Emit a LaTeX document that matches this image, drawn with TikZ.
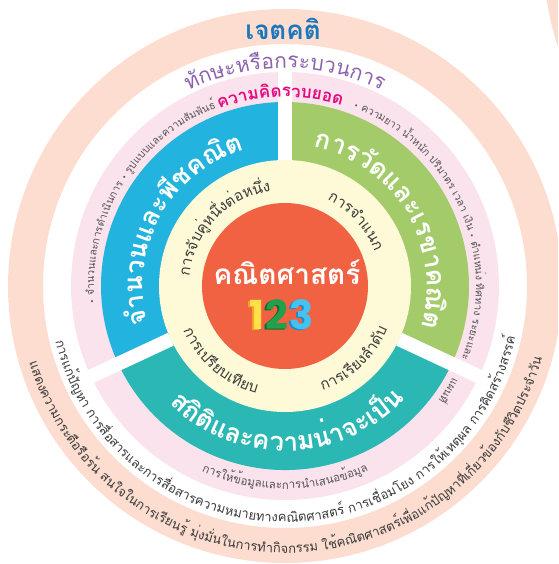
\documentclass[tikz,border=0pt]{standalone}
\usepackage{fontspec}
\usetikzlibrary{decorations.text}
\newfontfamily\loma[Script=Thai]{Loma}
\newfontfamily\bul{DejaVu Sans}
\newfontfamily\numfont{Poppins}
\definecolor{peach}{HTML}{FCDDD0}
\definecolor{pinkband}{HTML}{FAE3EC}
\definecolor{segblue}{HTML}{22B3DF}
\definecolor{seggreen}{HTML}{A4CB6A}
\definecolor{segteal}{HTML}{2BB7B3}
\definecolor{cream}{HTML}{FEF9D7}
\definecolor{core}{HTML}{F16242}
\definecolor{titleblue}{HTML}{1C76BC}
\definecolor{skillpurple}{HTML}{8C62AD}
\definecolor{conceptmag}{HTML}{E4097F}
\definecolor{txtgray}{HTML}{3A3A3A}
\definecolor{smallgray}{HTML}{555555}
\definecolor{oneface}{HTML}{FFE04A}
\definecolor{oneshade}{HTML}{F5A321}
\definecolor{twoface}{HTML}{22A04C}
\definecolor{twoshade}{HTML}{0E6B30}
\definecolor{threeface}{HTML}{45C3F0}
\definecolor{threeshade}{HTML}{1A8CD0}
% clockwise arc text (letter tops outward)
\newcommand\cwtext[5][]{%
  \path[decorate,decoration={text along path,text align=center,text={#5},#1}]
    ({#3+#4}:#2pt) arc[start angle={#3+#4},end angle={#3-#4},radius=#2pt];}
% counter-clockwise arc text (letter tops inward)
\newcommand\ccwtext[5][]{%
  \path[decorate,decoration={text along path,text align=center,text={#5},#1}]
    ({#3-#4}:#2pt) arc[start angle={#3-#4},end angle={#3+#4},radius=#2pt];}
\tikzset{
  gapline/.style={white,line width=14pt},
  digit/.style={font=\numfont\bfseries\fontsize{40}{40}\selectfont,inner sep=0pt}
}
\begin{document}
\begin{tikzpicture}[x=1pt,y=1pt]
\useasboundingbox (-285,-278) rectangle (273,286);
\clip (-285,-278) rectangle (273,286);
% neighbouring ring at top right
\fill[peach,even odd rule] (536,326) circle[radius=277pt] (536,326) circle[radius=242pt];
% rings
\fill[peach,even odd rule] (0,0) circle[radius=277pt] (0,0) circle[radius=242pt];
\fill[pinkband] (0,0) circle[radius=214pt];
\fill[segblue] (0,0) -- (90:184pt) arc[start angle=90,end angle=205,radius=184pt] -- cycle;
\fill[seggreen] (0,0) -- (-25:184pt) arc[start angle=-25,end angle=90,radius=184pt] -- cycle;
\fill[segteal] (0,0) -- (205:184pt) arc[start angle=205,end angle=335,radius=184pt] -- cycle;
\fill[cream] (0,0) circle[radius=126pt];
\draw[gapline] (90:126pt) -- (90:215pt);
\draw[gapline] (205:126pt) -- (205:215pt);
\draw[gapline] (335:126pt) -- (335:215pt);
\fill[core] (0,0) circle[radius=83pt];
% outer ring texts
\node[font=\loma\bfseries\fontsize{26}{26}\selectfont,text=titleblue] (attitude) at (-2,257) {เจตคติ};
\ccwtext[text color=txtgray]{267}{270.5}{85}{|\loma\fontsize{13}{13}\selectfont|แสดงความกระตือรือร้น สนใจในการเรียนรู้ มุ่งมั่นในการทำกิจกรรม ใช้คณิตศาสตร์เพื่อแก้ปัญหาที่เกี่ยวข้องกับชีวิตประจำวัน}
% white ring texts
\cwtext[text color=skillpurple]{218}{90}{60}{|\loma\fontsize{21}{21}\selectfont|ทักษะหรือกระบวนการ}
\ccwtext[text color=txtgray]{236}{270.5}{88}{|\loma\fontsize{13}{13}\selectfont|การแก้ปัญหา การสื่อสารและการสื่อสารความหมายทางคณิตศาสตร์ การเชื่อมโยง การให้เหตุผล การคิดสร้างสรรค์}
% pink ring texts
\cwtext[text color=conceptmag]{189}{91.5}{40}{|\loma\bfseries\fontsize{17}{17}\selectfont|ความคิดรวบยอด}
\cwtext[text color=smallgray]{191}{148.2}{50}{|\bul\fontsize{7}{7}\selectfont|•|\loma\fontsize{10.5}{10.5}\selectfont| จำนวนและการดำเนินการ |\bul\fontsize{7}{7}\selectfont|•|\loma\fontsize{10.5}{10.5}\selectfont| รูปแบบและความสัมพันธ์}
\cwtext[text color=smallgray,text align=left]{191}{23.5}{45.5}{|\bul\fontsize{7}{7}\selectfont|•|\loma\fontsize{10.5}{10.5}\selectfont| ความยาว น้ำหนัก ปริมาตร เวลา เงิน |\bul\fontsize{7}{7}\selectfont|•|\loma\fontsize{10.5}{10.5}\selectfont| ตำแหน่ง ทิศทาง ระยะและ}
\cwtext[text color=smallgray,text align=left]{191}{-38}{9.5}{|\loma\fontsize{10.5}{10.5}\selectfont|แผนที่}
\ccwtext[text color=smallgray]{203}{270}{40}{|\loma\fontsize{11.5}{11.5}\selectfont|การให้ข้อมูลและการนำเสนอข้อมูล}
% segment titles
\cwtext[text color=white]{142}{150.8}{60}{|\loma\bfseries\fontsize{26}{26}\selectfont|จำนวนและพีชคณิต}
\cwtext[text color=white]{142}{30.7}{60}{|\loma\bfseries\fontsize{26}{26}\selectfont|การวัดและเรขาคณิต}
\ccwtext[text color=white]{165}{271.2}{70}{|\loma\bfseries\fontsize{26}{26}\selectfont|สถิติและความน่าจะเป็น}
% inner ring texts
\cwtext[text color=txtgray]{96}{136.5}{60}{|\loma\fontsize{15}{15}\selectfont|การจับคู่หนึ่งต่อหนึ่ง}
\cwtext[text color=txtgray]{96}{42.4}{40}{|\loma\fontsize{15}{15}\selectfont|การจำแนก}
\ccwtext[text color=txtgray]{111}{229.3}{45}{|\loma\fontsize{15}{15}\selectfont|การเปรียบเทียบ}
\ccwtext[text color=txtgray]{111}{313.5}{45}{|\loma\fontsize{15}{15}\selectfont|การเรียงลำดับ}
% core
\node[font=\loma\bfseries\fontsize{28}{28}\selectfont,text=white,anchor=base] (coretitle) at (2,1) {คณิตศาสตร์};
\node[digit,text=oneshade] (d1s) at (-30,-30) {1};
\node[digit,text=oneface] (d1) at (-28,-29) {1};
\node[digit,text=twoshade] (d2s) at (-10,-30) {2};
\node[digit,text=twoface] (d2) at (-8,-29) {2};
\node[digit,text=threeshade] (d3s) at (15,-30) {3};
\node[digit,text=threeface] (d3) at (17,-29) {3};
\end{tikzpicture}
\end{document}
